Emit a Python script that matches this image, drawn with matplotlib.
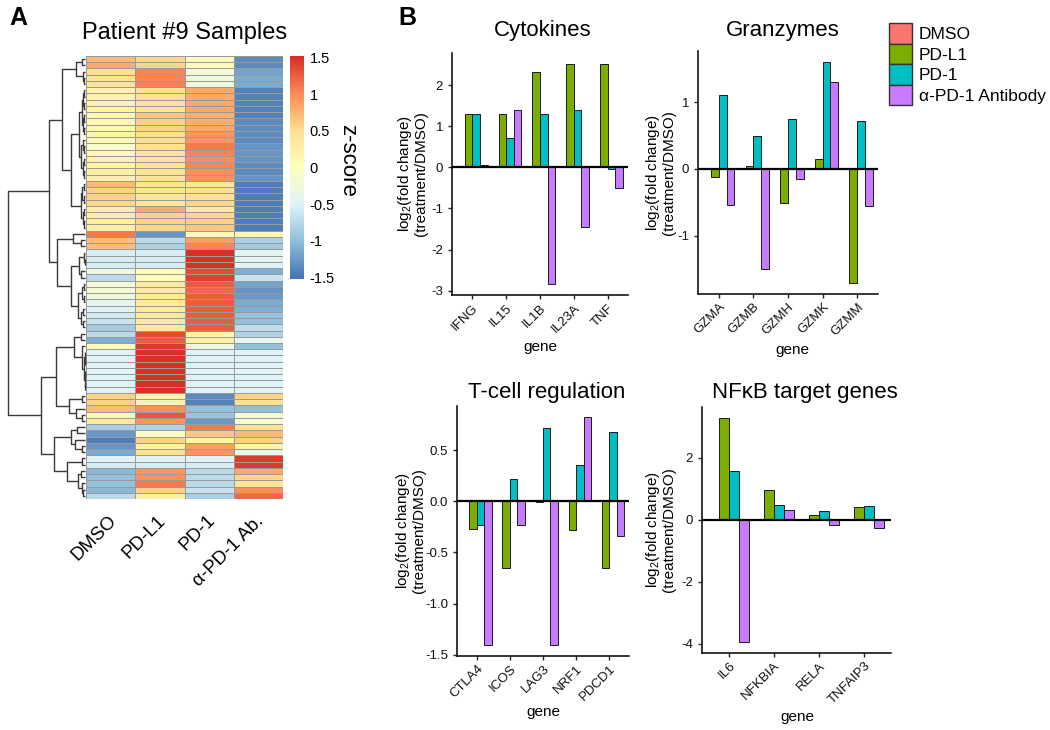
import numpy as np
import matplotlib
matplotlib.use("Agg")
import matplotlib.pyplot as plt
from matplotlib.colors import LinearSegmentedColormap
from matplotlib.patches import Patch
from matplotlib.ticker import MultipleLocator, FormatStrFormatter

plt.rcParams["font.family"] = ["Liberation Sans", "DejaVu Sans"]
plt.rcParams["axes.unicode_minus"] = False
plt.rcParams["mathtext.fontset"] = "custom"
plt.rcParams["mathtext.rm"] = "Liberation Sans"

W, H = 1050, 730

# ---- panel A: row z-scores, rows listed in dendrogram order ----
samples = ["DMSO", "PD-L1", "PD-1", "α-PD-1 Ab."]

z_dmso = [0.75, 0.85, 0.5, 0.45, 0.45,
          0.2, 0.2, 0.2, 0.2, 0.15, 0.15, 0.15, 0.2, 0.1, -0.15, 0.15, 0.2, 0.2, 0.25, 0.25,
          0.75, 0.6, 0.6, 0.55, 0.3, 0.3, 0.3, 0.3,
          1.1, 0.7, 0.7,
          -0.55, -0.55, -0.55, -0.3, -0.75, -0.2, -0.2, -0.25, -0.4, -0.5, -0.6, -0.65, -0.9,
          -0.75, -1.1, 0.05, -0.5, -0.5, -0.5, -0.5, -0.5, -0.5, -0.5,
          0.6, 0.6, 0.7, 0.1, 0.35,
          -0.85, -1.25, -1.45, -1.3, -1.15,
          -0.5, -0.55, -1.05, -1.0, -1.0, -1.05, -0.75]
z_pdl1 = [0.55, 0.55, 1.05, 1.05, 1.05,
          0.5, 0.5, 0.45, 0.45, 0.65, 0.6, 0.6, 0.5, 0.5, 0.5, 0.45, 0.45, 0.45, 0.45, 0.45,
          0.4, 0.4, 0.4, 0.35, 0.85, 0.6, 0.6, 0.55,
          -1.3, -0.75, -0.85,
          -0.55, -0.55, -0.55, 0.05, 0.05, 0.35, 0.35, 0.35, 0.35, 0.35, 0.35, 0.35, 0.35,
          1.35, 1.25, 1.45, 1.5, 1.5, 1.5, 1.5, 1.5, 1.5, 1.5,
          0.2, 0.2, 1.0, 1.3, 0.95,
          -0.8, 0.0, 0.6, 0.25, 0.5,
          -0.5, -0.55, 0.95, 1.0, 1.1, 0.6, 0.3]
z_pd1 = [0.05, 0.05, -0.2, -0.25, -0.25,
         0.85, 0.85, 0.85, 0.85, 0.8, 0.8, 0.85, 0.95, 0.95, 1.1, 1.05, 1.0, 1.05, 1.0, 1.0,
         0.4, 0.5, 0.5, 0.55, 0.35, 0.55, 0.6, 0.65,
         0.1, 0.9, 1.05,
         1.5, 1.5, 1.5, 1.35, 1.4, 1.25, 1.2, 1.25, 1.25, 1.25, 1.25, 1.25, 1.25,
         0.2, 0.25, -0.3, -0.5, -0.5, -0.5, -0.5, -0.5, -0.5, -0.5,
         -1.35, -1.4, -1.0, -0.95, -1.25,
         1.1, 0.65, 0.2, 0.9, 0.95,
         -0.5, -0.55, -0.75, -0.75, -0.75, -0.65, -0.85]
z_ab = [-1.35, -1.35, -1.2, -1.15, -1.15,
        -1.4, -1.4, -1.4, -1.4, -1.4, -1.35, -1.35, -1.35, -1.35, -1.3, -1.3, -1.3, -1.35, -1.35, -1.3,
        -1.45, -1.45, -1.45, -1.45, -1.45, -1.45, -1.45, -1.45,
        0.1, -0.85, -0.9,
        -0.45, -0.45, -0.5, -1.1, -0.65, -1.2, -1.3, -1.25, -1.15, -1.1, -1.0, -1.0, -0.7,
        -0.8, -0.4, -1.0, -0.5, -0.5, -0.5, -0.5, -0.5, -0.5, -0.5,
        0.6, 0.5, -1.0, -0.2, -0.15,
        0.5, 0.75, 0.6, 0.2, -0.35,
        1.45, 1.45, 0.85, 0.55, 0.45, 1.0, 1.2]

# dendrogram: [height, left, right], leaves are row numbers
tree_a = [9, [3, 0, 1], [2.5, 2, [1.5, 3, 4]]]
tree_b1 = [6, [3.5, [2, [1, 5, 6], [1.5, 7, 8]], [2.5, [1, 9, 10], [1.5, 11, 12]]],
           [4, [2, 13, [1, 14, 15]], [2.5, [1, 16, 17], [1.2, 18, 19]]]]
tree_b2 = [4, [3, [1.5, 20, 21], [1.5, 22, 23]], [2.5, [1.5, 24, 25], [1, 26, 27]]]
tree_c = [12, 28, [4, 29, 30]]
tree_d = [14, [6, [1, 31, [0.5, 32, 33]], [4, 34, 35]],
          [7, [3, [1.5, 36, 37], [1.5, 38, 39]], [4, [2, 40, 41], [2.5, 42, 43]]]]
tree_e = [11, [4, 44, 45],
          [3, 46, [0.8, [0.4, 47, [0.2, 48, 49]], [0.5, [0.2, 50, 51], [0.3, 52, 53]]]]]
tree_f = [16, [3, 54, 55], [9, 56, [3, 57, 58]]]
tree_g = [14, [8, 59, 60], [10, 61, [3, 62, 63]]]
tree_h = [18, [3, 64, 65], [7, [4, 66, 67], [3.5, 68, [2, 69, 70]]]]
row_tree = [78,
            [36, [23, tree_a, [14, tree_b1, tree_b2]], [28, tree_c, tree_d]],
            [45, [29, tree_e, tree_f], [31, tree_g, tree_h]]]

zscore_ticks = [-1.5, -1, -0.5, 0, 0.5, 1, 1.5]
zscore_labels = ["-1.5", "-1", "-0.5", "0", "0.5", "1", "1.5"]

# ---- panel B: log2 fold change vs DMSO ----
groups = ["DMSO", "PD-L1", "PD-1", "α-PD-1 Antibody"]
group_colors = ["#F8766D", "#7CAE00", "#00BFC4", "#C77CFF"]

cyto_genes = ["IFNG", "IL15", "IL1B", "IL23A", "TNF"]
cyto_dmso = [0, 0, 0, 0, 0]
cyto_pdl1 = [1.3, 1.3, 2.32, 2.52, 2.52]
cyto_pd1 = [1.3, 0.72, 1.3, 1.41, -0.03]
cyto_ab = [0.07, 1.41, -2.84, -1.44, -0.5]

gzm_genes = ["GZMA", "GZMB", "GZMH", "GZMK", "GZMM"]
gzm_dmso = [0, 0, 0, 0, 0]
gzm_pdl1 = [-0.12, 0.04, -0.51, 0.14, -1.71]
gzm_pd1 = [1.1, 0.49, 0.75, 1.6, 0.72]
gzm_ab = [-0.54, -1.5, -0.15, 1.3, -0.56]

tcell_genes = ["CTLA4", "ICOS", "LAG3", "NRF1", "PDCD1"]
tcell_dmso = [0, 0, 0, 0, 0]
tcell_pdl1 = [-0.27, -0.65, -0.01, -0.28, -0.65]
tcell_pd1 = [-0.23, 0.215, 0.72, 0.35, 0.675]
tcell_ab = [-1.4, -0.23, -1.4, 0.82, -0.34]

nfkb_genes = ["IL6", "NFKBIA", "RELA", "TNFAIP3"]
nfkb_dmso = [0, 0, 0, 0]
nfkb_pdl1 = [3.27, 0.96, 0.14, 0.41]
nfkb_pd1 = [1.58, 0.47, 0.29, 0.44]
nfkb_ab = [-3.93, 0.32, -0.18, -0.28]


def box(fig, left, top, right, bottom):
    return fig.add_axes([left / W, 1 - bottom / H, (right - left) / W, (bottom - top) / H])


def ftext(fig, x, y, s, **kw):
    return fig.text(x / W, 1 - y / H, s, **kw)


def draw_tree(ax, node):
    if not isinstance(node, list):
        return node + 0.5, 0.0
    h, left, right = node
    y1, h1 = draw_tree(ax, left)
    y2, h2 = draw_tree(ax, right)
    kw = dict(color="#3a3a3a", lw=1.0, clip_on=False, solid_capstyle="butt")
    ax.plot([h1, h, h, h2], [y1, y1, y2, y2], **kw)
    return (y1 + y2) / 2, h


def bar_panel(fig, rect, genes, series, step, fmt):
    ax = box(fig, *rect)
    x = np.arange(len(genes))
    width = 0.225
    for k, (vals, col) in enumerate(zip(series, group_colors)):
        ax.bar(x + (k - 1.5) * width, vals, width=width, color=col,
               edgecolor="#1a1a1a", linewidth=0.7, zorder=2)
    ax.axhline(0, color="black", lw=1.6, zorder=3)
    allv = np.concatenate([np.asarray(s, float) for s in series])
    lo, hi = allv.min(), allv.max()
    pad = 0.05 * (hi - lo)
    ax.set_ylim(lo - pad, hi + pad)
    ax.set_xlim(-0.6, len(genes) - 0.4)
    ax.yaxis.set_major_locator(MultipleLocator(step))
    ax.yaxis.set_major_formatter(FormatStrFormatter(fmt))
    ax.set_xticks(x)
    ax.set_xticklabels(genes, rotation=45, ha="right", va="top",
                       rotation_mode="anchor", fontsize=8.5, color="#111111")
    for s in ["top", "right"]:
        ax.spines[s].set_visible(False)
    for s in ["left", "bottom"]:
        ax.spines[s].set_linewidth(1.1)
    ax.tick_params(axis="both", direction="out", length=3, width=1,
                   colors="#222222", labelsize=9.5)
    ax.tick_params(axis="x", pad=2, labelcolor="#111111")
    ax.tick_params(axis="y", labelcolor="#111111")
    return ax


def main():
    fig = plt.figure(figsize=(W / 100, H / 100), dpi=100)

    # ---------- A ----------
    ftext(fig, 9, 6, "A", fontsize=18, fontweight="bold", va="top")
    ftext(fig, 185, 39, "Patient #9 Samples", fontsize=17, ha="center", va="baseline")

    colors = ["#4575B4", "#91BFDB", "#E0F3F8", "#FFFFBF", "#FEE090", "#FC8D59", "#D73027"]
    cmap = LinearSegmentedColormap.from_list("rdylbu", colors, N=100)
    vmin, vmax = -1.52, 1.52

    zmat = np.column_stack([z_dmso, z_pdl1, z_pd1, z_ab])
    nrow = zmat.shape[0]

    hm = box(fig, 86, 56, 283, 499)
    hm.pcolormesh(np.arange(5), np.arange(nrow + 1), zmat, cmap=cmap, vmin=vmin, vmax=vmax,
                  edgecolors="#9a9a9a", linewidth=0.6)
    hm.set_xlim(0, 4)
    hm.set_ylim(nrow, 0)
    hm.axis("off")

    den = box(fig, 8, 56, 85, 499)
    draw_tree(den, row_tree)
    den.set_xlim(row_tree[0], 0)
    den.set_ylim(nrow, 0)
    den.axis("off")

    col_w = (283 - 86) / 4
    for i, name in enumerate(samples):
        ftext(fig, 86 + col_w * (i + 0.5) - 3, 512, name, fontsize=13.5, rotation=45,
              ha="right", va="top", rotation_mode="anchor")

    cb = box(fig, 290, 56, 304, 279)
    grad = np.linspace(vmin, vmax, 256).reshape(-1, 1)
    cb.imshow(grad, aspect="auto", cmap=cmap, vmin=vmin, vmax=vmax, origin="lower",
              extent=[0, 1, vmin, vmax])
    cb.set_xticks([])
    cb.yaxis.tick_right()
    cb.set_yticks(zscore_ticks)
    cb.set_yticklabels(zscore_labels, fontsize=10.5)
    cb.tick_params(axis="y", length=0, pad=4)
    for s in cb.spines.values():
        s.set_visible(False)
    ftext(fig, 348, 160, "z-score", fontsize=16, rotation=270, ha="center", va="center")

    # ---------- B ----------
    ftext(fig, 398, 6, "B", fontsize=18, fontweight="bold", va="top")
    ylab = "log$_2$(fold change)\n(treatment/DMSO)"

    panels = [
        ((452, 53, 628, 295), cyto_genes, [cyto_dmso, cyto_pdl1, cyto_pd1, cyto_ab], 1, "%d",
         "Cytokines", (543, 36), 412, (540, 347)),
        ((698, 51, 878, 294), gzm_genes, [gzm_dmso, gzm_pdl1, gzm_pd1, gzm_ab], 1, "%d",
         "Granzymes", (783, 36), 660, (792, 350)),
        ((457, 406, 629, 656), tcell_genes, [tcell_dmso, tcell_pdl1, tcell_pd1, tcell_ab], 0.5,
         "%.1f", "T-cell regulation", (547, 398), 410, (543, 712)),
        ((702, 407, 891, 653), nfkb_genes, [nfkb_dmso, nfkb_pdl1, nfkb_pd1, nfkb_ab], 2, "%d",
         "NFκB target genes", (805, 398), 660, (797, 717)),
    ]
    for rect, genes, series, step, fmt, title, txy, ylx, gxy in panels:
        bar_panel(fig, rect, genes, series, step, fmt)
        ftext(fig, txy[0], txy[1], title, fontsize=16, ha="center", va="baseline")
        ftext(fig, ylx, (rect[1] + rect[3]) / 2, ylab, fontsize=11, rotation=90,
              ha="center", va="center", multialignment="center", linespacing=1.0)
        ftext(fig, gxy[0], gxy[1], "gene", fontsize=11, ha="center", va="center")

    handles = [Patch(facecolor=c, edgecolor="#333333", linewidth=1.0) for c in group_colors]
    fig.legend(handles, groups, loc="upper left", bbox_to_anchor=(889 / W, 1 - 23 / H),
               frameon=False, fontsize=12.5, handlelength=1.35, handleheight=1.45,
               handletextpad=0.35, labelspacing=0.0, borderpad=0, borderaxespad=0)

    fig.savefig("out.png", dpi=100)
    plt.close(fig)


if __name__ == "__main__":
    main()
